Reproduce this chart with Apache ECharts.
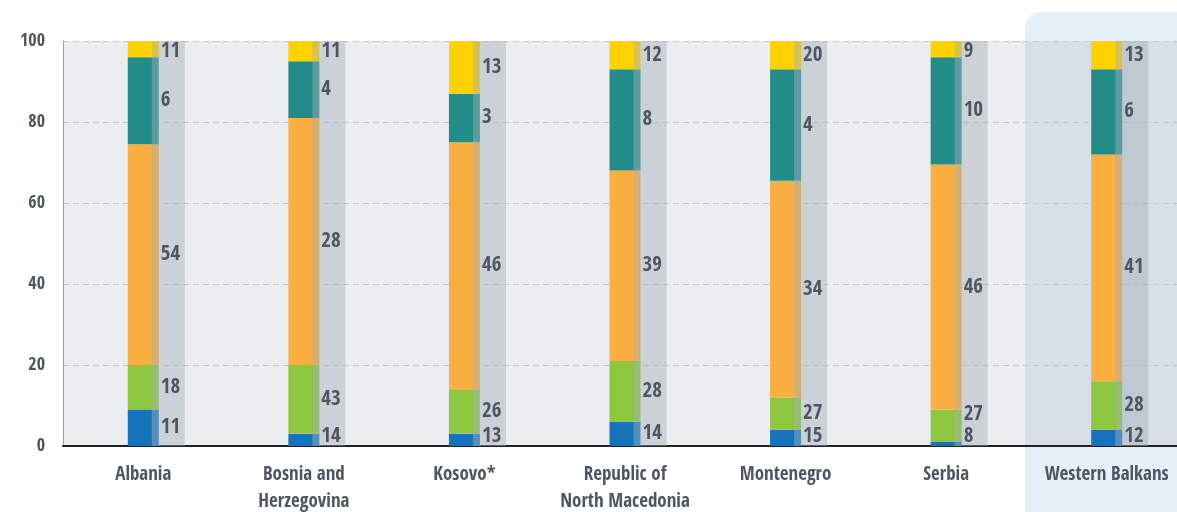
<!DOCTYPE html>
<html><head><meta charset="utf-8">
<script src="https://cdn.jsdelivr.net/npm/echarts@6/dist/echarts.min.js"></script>
<style>html,body{margin:0;padding:0;background:#fff}#c{width:1177px;height:512px}</style>
</head><body><div id="c"></div>
<script>
const categories = ['Albania', 'Bosnia and\nHerzegovina', 'Kosovo*', 'Republic of\nNorth Macedonia', 'Montenegro', 'Serbia', 'Western Balkans'];
const blueValues   = [9, 3, 3, 6, 4, 1, 4];
const greenValues  = [11, 17, 11, 15, 8, 8, 12];
const orangeValues = [54.5, 61, 61, 47, 53.5, 60.5, 56];
const tealValues   = [21.5, 14, 12, 25, 27.5, 26.5, 21];
const yellowValues = [4, 5, 13, 7, 7, 4, 7];
const totalValues  = [100, 100, 100, 100, 100, 100, 100];
const blueLabels   = [11, 14, 13, 14, 15, 8, 12];
const greenLabels  = [18, 43, 26, 28, 27, 27, 28];
const orangeLabels = [54, 28, 46, 39, 34, 46, 41];
const tealLabels   = [6, 4, 3, 8, 4, 10, 6];
const yellowLabels = [11, 11, 13, 12, 20, 9, 13];

const FONT = "'Open Sans Condensed', 'Roboto Condensed', sans-serif";
const TEXT = '#4D5663';
const segValues = [blueValues, greenValues, orangeValues, tealValues, yellowValues];
const segLabels = [blueLabels, greenLabels, orangeLabels, tealLabels, yellowLabels];
const segColors = ['#1473BB', '#8DC63F', '#FAAF40', '#218C88', '#FFD200'];

const chart = echarts.init(document.getElementById('c'));
const colored = segValues.map((vals, k) => ({
  type: 'bar', stack: 'a', xAxisIndex: 0, yAxisIndex: 0, barWidth: 31, z: 2,
  itemStyle: { color: segColors[k] }, data: vals
}));

chart.setOption({
  animation: false,
  graphic: { elements: [
    { type: 'rect', z: -10, silent: true, shape: { x: 1025, y: 12, width: 220, height: 560, r: 15 }, style: { fill: '#E6F0F8' } },
    { type: 'rect', z: -9, silent: true, shape: { x: 63, y: 41, width: 962, height: 405 }, style: { fill: '#ECEDEF' } },
    { type: 'rect', z: -9, silent: true, shape: { x: 1025, y: 41, width: 200, height: 405 }, style: { fill: '#D6DFE7' } }
  ]},
  grid: [
    { left: 63, top: 41, width: 1124, height: 405, outerBoundsMode: 'none', containLabel: false },
    { left: 88, top: 41, width: 1124, height: 405, outerBoundsMode: 'none', containLabel: false }
  ],
  xAxis: [
    { type: 'category', gridIndex: 0, data: categories,
      axisLine: { lineStyle: { color: '#231F20', width: 2 } },
      axisTick: { inside: true, length: 10, lineStyle: { color: '#231F20', width: 1 } },
      axisLabel: { interval: 0, hideOverlap: false, color: TEXT, fontFamily: FONT, fontWeight: 'bold', fontSize: 19, lineHeight: 27, margin: 16 } },
    { type: 'category', gridIndex: 1, data: categories, show: false }
  ],
  yAxis: [
    { type: 'value', gridIndex: 0, min: 0, max: 100, interval: 20,
      axisLine: { show: true, lineStyle: { color: '#A0A0A0', width: 1 } },
      axisTick: { show: false },
      axisLabel: { color: TEXT, fontFamily: FONT, fontWeight: 'bold', fontSize: 18, margin: 18 },
      splitLine: { show: true, lineStyle: { color: '#C8C8C8', width: 1, type: [6, 4] } } },
    { type: 'value', gridIndex: 1, min: 0, max: 100, show: false, splitLine: { show: false } }
  ],
  series: colored.concat([
    { type: 'bar', xAxisIndex: 1, yAxisIndex: 1, barWidth: 33, z: 3,
      itemStyle: { color: 'rgba(165,175,183,0.45)' }, data: totalValues },
    { type: 'custom', xAxisIndex: 0, yAxisIndex: 0, z: 5, clip: false, silent: true,
      data: categories.map((c, i) => [i]),
      encode: { x: 0 },
      renderItem: function (params, api) {
        const i = api.value(0);
        let cum = 0;
        const ys = [];
        segValues.forEach(arr => { ys.push(api.coord([i, cum + arr[i] / 2])[1]); cum += arr[i]; });
        const base = api.coord([i, 0]);
        const topY = api.coord([i, 100])[1] + 11;
        const x = base[0] + 17.5;
        ys[0] = Math.min(ys[0], base[1] - 9);
        for (let k = 1; k < ys.length; k++) ys[k] = Math.min(ys[k], ys[k - 1] - 22);
        ys[4] = Math.max(ys[4], topY);
        for (let k = 3; k >= 0; k--) ys[k] = Math.max(ys[k], ys[k + 1] + 22);
        return { type: 'group', children: ys.map((y, k) => ({
          type: 'text', x: x, y: y,
          style: { text: String(segLabels[k][i]), fontFamily: FONT, fontWeight: 'bold', fontSize: 21,
                   fill: TEXT, align: 'left', verticalAlign: 'middle' }
        })) };
      } }
  ])
});
</script></body></html>
